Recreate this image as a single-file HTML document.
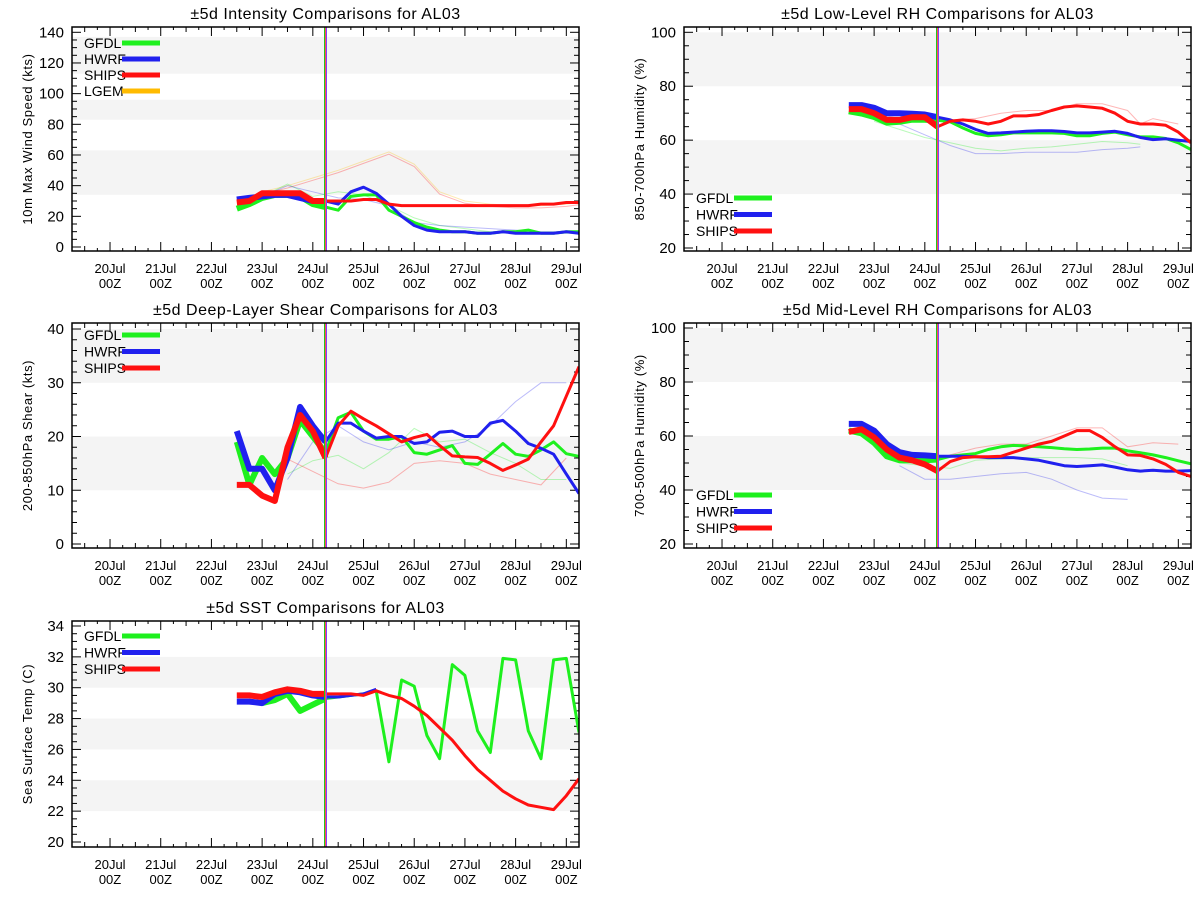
<!DOCTYPE html>
<html><head><meta charset="utf-8"><style>
html,body{margin:0;padding:0;background:#fff;}
svg{display:block;font-family:"Liberation Sans","DejaVu Sans",sans-serif;}
</style></head><body>
<svg id="chart" width="1200" height="900" viewBox="0 0 1200 900"></svg>
<script>
// ---- shared data ----
const times = [22.5,22.75,23,23.25,23.5,23.75,24,24.25,24.5,24.75,25,25.25,25.5,25.75,26,26.25,26.5,26.75,27,27.25,27.5,27.75,28,28.25,28.5,28.75,29,29.25];
const xTickDays = [20,21,22,23,24,25,26,27,28,29];
const xTickLabels = ["20Jul","21Jul","22Jul","23Jul","24Jul","25Jul","26Jul","27Jul","28Jul","29Jul"];
const currentTime = 24.25;

// Intensity (kt)
const intGFDL = [25,28,32,34,34,33,28,26,24,33,34,34,24,20,16,13,11,10,10,9,9,10,10,11,9,9,10,10];
const intHWRF = [31,32,33,34,34,32,30,30,28,36,39,35,28,20,14,11,10,10,10,9,9,10,9,9,9,9,10,9];
const intSHIPS = [29,30,35,35,35,35,30,30,30,30,31,31,28,27,27,27,27,27,27,27,27,27,27,27,28,28,29,29];
const intPrevTimes = [23,23.5,24,24.5,25,25.5,26,26.5,27,27.5,28,28.5,29,29.25];
const intPrevLGEM = [36,40,45,50,56,62,54,36,30,28,27,27,28,29];
const intPrevGFDL = [33,41,33,36,34,27,19,14,12,10,10,9,9,9];
const intPrevHWRF = [33,40,36,32,31,27,16,14,13,12,11,10,10,10];

// Shear (kt)
const shrGFDL = [19,11,16,13,16,23,20,17,23.5,24.5,21,19.5,19.5,20,17,16.7,17.5,18.3,15,14.8,16.7,18.7,16.7,16.3,17.5,19,16.8,16.3];
const shrHWRF = [21,14,14,10,16,25.5,22,19,22.5,22.5,21,19.7,20,20,18.7,19,20.8,21,20,20,22.5,23,21,18.7,17.8,16.7,13,9.4];
const shrSHIPS = [11,11,9,8,18,24,21,16,22,24.7,23.3,22,20.5,19,19.8,20.4,18.3,16.4,16.2,16.1,15,13.7,14.7,15.8,19,22,27.5,33];
const shrPrevTimes = [23.5,24,24.5,25,25.5,26,26.5,27,27.5,28,28.5,29];
const shrPrevGFDL = [13,15.5,16.5,14,17,21.5,19,19.5,17,15,12,12];
const shrPrevHWRF = [12,19,22,19,17.5,19,18,19,22,26.5,30,30];
const shrPrevSHIPS = [15.8,13.5,11.2,10.4,11.5,15,15.5,15,13,12,11,16];

// Low-level RH (%)
const llGFDL = [70.7,69.9,68.6,66.5,66.8,67.6,67.6,67.4,66.8,64.5,62.5,61.6,62,62.7,62.7,62.7,62.7,62.5,61.6,61.6,62.5,63,62,61.2,61.2,60.6,59,56.5];
const llHWRF = [73,73,72,70,70,69.8,69.5,68.5,67.5,66,64,62.5,62.7,63,63.3,63.5,63.5,63.2,62.7,62.7,63,63.3,62.5,61,60.2,60.5,60,59.5];
const llSHIPS = [71.5,71.5,70,67.5,67.5,68.5,68.5,65,67,67.5,67,66,67,69,69,69.5,71,72.3,72.7,72.3,71.8,70,67,66,66,65.5,63,59];
const llPrevTimes = [23,23.5,24,24.5,25,25.5,26,26.5,27,27.5,28,28.25,28.5,29];
const llPrevGFDL = [67,64,61,59,57,56,57,57.5,58.5,59.5,59,58.5,null,null];
const llPrevHWRF = [68,66,62,58,55,55,55.5,55.5,55.5,56.5,57,57.5,null,null];
const llPrevSHIPS = [70,68,67,67.5,68,70,71,71,73.5,73.5,71,66,68,66];

// Mid-level RH (%)
const mlGFDL = [62,61,57.5,52.5,51,51,51,51.3,52.5,53,53.5,55,56,56.5,56.3,56,55.7,55.3,55,55.2,55.5,55.5,54.5,53.8,53,52,50.8,49.7];
const mlHWRF = [64.5,64.5,62,57,54,53,52.8,52.5,52.5,52.5,52.3,52,52,52,51.5,51,50,49,48.7,49,49.3,48.5,47.5,47,47.3,47,47,47.2];
const mlSHIPS = [61.5,62.5,59.5,55,52,51,49.5,47,50.5,52,52.3,52.3,52.5,54,55.5,57,58,60,62,62,59.5,56,53,52.8,51.5,49.5,46.5,45];
const mlPrevTimes = [23.5,24,24.5,25,25.5,26,26.5,27,27.5,28,28.5,29];
const mlPrevGFDL = [50,49,48,51,51.5,52,52,52,51.5,49,null,null];
const mlPrevHWRF = [49,44,44,45,46,46.5,44,40,37,36.5,null,null];
const mlPrevSHIPS = [52,50,53,55.5,57,57,60,63,63,56,57.5,57];

// SST (C)
const sstGFDL = [null,null,29.0,29.2,29.6,28.5,28.9,29.3,29.4,29.5,29.6,29.8,25.2,30.5,30.1,26.9,25.4,31.5,30.8,27.2,25.8,31.9,31.8,27.2,25.4,31.8,31.9,27.1];
const sstHWRF = [29.1,29.1,29.0,29.6,29.8,29.7,29.5,29.4,29.4,29.5,29.6,29.9,null,null,null,null,null,null,null,null,null,null,null,null,null,null,null,null];
const sstSHIPS = [29.5,29.5,29.4,29.7,29.9,29.8,29.6,29.6,29.6,29.6,29.5,29.8,29.5,29.3,28.8,28.2,27.4,26.6,25.6,24.7,24.0,23.3,22.8,22.4,22.25,22.1,23.0,24.1];

const C = {GFDL:"#1ef01e", HWRF:"#2020ee", SHIPS:"#ff1010", LGEM:"#ffbb00"};
const NS = "http://www.w3.org/2000/svg";
const svg = document.getElementById("chart");
function mk(tag, attrs, parent){ const e=document.createElementNS(NS,tag); for(const k in attrs) e.setAttribute(k,attrs[k]); (parent||svg).appendChild(e); return e; }

function panel(cfg){
  const g = mk("g",{});
  
  
  const X = t => cfg.x0 + (t-19.25)/10*(cfg.x1-cfg.x0);
  const Y = v => cfg.pA + (v-cfg.vA)/(cfg.vB-cfg.vA)*(cfg.pB-cfg.pA);
  const clip = "clip-"+cfg.name;
  const cp = mk("clipPath",{id:clip},g); mk("rect",{x:cfg.x0,y:cfg.y0,width:cfg.x1-cfg.x0,height:cfg.y1-cfg.y0},cp);
  cfg.bands.forEach(b=>{
    const ya=Math.max(cfg.y0,Y(b[1])), yb=Math.min(cfg.y1,Y(b[0]));
    const r = mk("rect",{x:cfg.x0,y:ya,width:cfg.x1-cfg.x0,height:yb-ya,fill:"#f4f4f4"},g);
    
    
  });
  const ti = mk("text",{x:(cfg.x0+cfg.x1)/2,y:cfg.y0-8,"text-anchor":"middle","font-size":"16","letter-spacing":"0.5"},g);
  ti.textContent = cfg.title;
  
  
  const yt = mk("text",{x:0,y:0,"text-anchor":"middle","font-size":"13","letter-spacing":"0.6",transform:`translate(${cfg.x0-40},${(cfg.y0+cfg.y1)/2}) rotate(-90)`},g);
  yt.textContent = cfg.ytitle;
  
  
  for(let v=cfg.vmin; v<=cfg.vmax+1e-9; v+=cfg.minor){
    const y=Y(v); if(y<cfg.y0-0.5||y>cfg.y1+0.5) continue;
    const major = Math.abs(Math.round(v/cfg.major)*cfg.major - v)<1e-6;
    const L = major?9:5;
    mk("line",{x1:cfg.x0,x2:cfg.x0+L,y1:y,y2:y,stroke:"#000","stroke-width":1},g);
    mk("line",{x1:cfg.x1,x2:cfg.x1-L,y1:y,y2:y,stroke:"#000","stroke-width":1},g);
    if(major){
      const tl = mk("text",{x:cfg.x0-8,y:y+5,"text-anchor":"end","font-size":"15"},g);
      tl.textContent = String(v);
      
      
    }
  }
  for(let t=19.5; t<=29.25; t+=0.25){
    const x=X(t); const major = Math.abs(t-Math.round(t))<1e-6;
    const L = major?9:(Math.abs(t*2-Math.round(t*2))<1e-6?5:3);
    mk("line",{x1:x,x2:x,y1:cfg.y1,y2:cfg.y1-L,stroke:"#000","stroke-width":1},g);
    mk("line",{x1:x,x2:x,y1:cfg.y0,y2:cfg.y0+L,stroke:"#000","stroke-width":1},g);
  }
  xTickDays.forEach((d,i)=>{
    const x=X(d);
    const a = mk("text",{x:x,y:cfg.y1+22,"text-anchor":"middle","font-size":"13"},g);
    a.textContent = xTickLabels[i];
    
    
    const b = mk("text",{x:x,y:cfg.y1+37,"text-anchor":"middle","font-size":"13"},g);
    b.textContent = "00Z";
    
    
  });
  const pg = mk("g",{"clip-path":`url(#${clip})`},g);
  cfg.prev.forEach(p=>{
    let d=""; let pen=false;
    p.vals.forEach((v,i)=>{ if(v==null){pen=false;return;} d+=(pen?"L":"M")+X(p.times[i]).toFixed(1)+","+Y(v).toFixed(1); pen=true; });
    const l = mk("path",{d:d,fill:"none",stroke:C[p.model],"stroke-width":1,opacity:0.3},pg);
    
    
  });
  cfg.series.forEach(s=>{
    let dA="", dB="", penA=false, penB=false;
    s.vals.forEach((v,i)=>{
      const t=times[i];
      if(v==null){penA=false;penB=false;return;}
      const pt=X(t).toFixed(1)+","+Y(v).toFixed(1);
      if(t<=currentTime){ dA+=(penA?"L":"M")+pt; penA=true; }
      if(t>=currentTime){ dB+=(penB?"L":"M")+pt; penB=true; }
    });
    const a = mk("path",{d:dA,fill:"none",stroke:C[s.model],"stroke-width":6,"stroke-linejoin":"round"},pg);
    
    
    const b = mk("path",{d:dB,fill:"none",stroke:C[s.model],"stroke-width":3,"stroke-linejoin":"round"},pg);
    
    
  });
  const xc=X(currentTime);
  [["#1ec81e",-1],["#ff5050",0],["#8040ff",1]].forEach(c=>{
    mk("line",{x1:xc+c[1],x2:xc+c[1],y1:cfg.y0,y2:cfg.y1,stroke:c[0],"stroke-width":1},g);
  });
  const fr = mk("rect",{x:cfg.x0,y:cfg.y0,width:cfg.x1-cfg.x0,height:cfg.y1-cfg.y0,fill:"none",stroke:"#000","stroke-width":1.5},g);
  
  
  cfg.legend.forEach((m,i)=>{
    const y = cfg.legY + i*cfg.legStep;
    const tx = mk("text",{x:cfg.x0+12,y:y+5,"font-size":"14"},g);
    tx.textContent = m;
    
    
    const ln = mk("line",{x1:cfg.x0+50,x2:cfg.x0+88,y1:y,y2:y,stroke:C[m],"stroke-width":5},g);
    
    
  });
}

const L0=72, L1=579, R0=684, R1=1191;
panel({name:"intensity-panel",title:"±5d Intensity Comparisons for AL03",ytitle:"10m Max Wind Speed (kts)",
  x0:L0,x1:L1,y0:27,y1:251,vA:0,pA:247,vB:140,pB:32.3,vmin:0,vmax:140,major:20,minor:5,
  bands:[[34,63],[83,96],[113,137]],
  series:[{model:"GFDL",vals:intGFDL},{model:"HWRF",vals:intHWRF},{model:"SHIPS",vals:intSHIPS}],
  prev:[{model:"LGEM",times:intPrevTimes,vals:intPrevLGEM},{model:"SHIPS",times:intPrevTimes,vals:intPrevLGEM.map(v=>v-1.5)},{model:"GFDL",times:intPrevTimes,vals:intPrevGFDL},{model:"HWRF",times:intPrevTimes,vals:intPrevHWRF}],
  legend:["GFDL","HWRF","SHIPS","LGEM"],legY:43,legStep:16});
panel({name:"low-level-rh-panel",title:"±5d Low-Level RH Comparisons for AL03",ytitle:"850-700hPa Humidity (%)",
  x0:R0,x1:R1,y0:27,y1:251,vA:20,pA:248,vB:100,pB:32.3,vmin:20,vmax:100,major:20,minor:5,
  bands:[[40,60],[80,100]],
  series:[{model:"GFDL",vals:llGFDL},{model:"HWRF",vals:llHWRF},{model:"SHIPS",vals:llSHIPS}],
  prev:[{model:"GFDL",times:llPrevTimes,vals:llPrevGFDL},{model:"HWRF",times:llPrevTimes,vals:llPrevHWRF},{model:"SHIPS",times:llPrevTimes,vals:llPrevSHIPS}],
  legend:["GFDL","HWRF","SHIPS"],legY:198,legStep:16.5});
panel({name:"shear-panel",title:"±5d Deep-Layer Shear Comparisons for AL03",ytitle:"200-850hPa Shear (kts)",
  x0:L0,x1:L1,y0:323,y1:548,vA:0,pA:544,vB:40,pB:329,vmin:0,vmax:40,major:10,minor:2,
  bands:[[10,20],[30,40]],
  series:[{model:"GFDL",vals:shrGFDL},{model:"HWRF",vals:shrHWRF},{model:"SHIPS",vals:shrSHIPS}],
  prev:[{model:"GFDL",times:shrPrevTimes,vals:shrPrevGFDL},{model:"HWRF",times:shrPrevTimes,vals:shrPrevHWRF},{model:"SHIPS",times:shrPrevTimes,vals:shrPrevSHIPS}],
  legend:["GFDL","HWRF","SHIPS"],legY:335,legStep:16.5});
panel({name:"mid-level-rh-panel",title:"±5d Mid-Level RH Comparisons for AL03",ytitle:"700-500hPa Humidity (%)",
  x0:R0,x1:R1,y0:323,y1:548,vA:20,pA:544,vB:100,pB:328,vmin:20,vmax:100,major:20,minor:5,
  bands:[[40,60],[80,100]],
  series:[{model:"GFDL",vals:mlGFDL},{model:"HWRF",vals:mlHWRF},{model:"SHIPS",vals:mlSHIPS}],
  prev:[{model:"GFDL",times:mlPrevTimes,vals:mlPrevGFDL},{model:"HWRF",times:mlPrevTimes,vals:mlPrevHWRF},{model:"SHIPS",times:mlPrevTimes,vals:mlPrevSHIPS}],
  legend:["GFDL","HWRF","SHIPS"],legY:495,legStep:16.5});
panel({name:"sst-panel",title:"±5d SST Comparisons for AL03",ytitle:"Sea Surface Temp (C)",
  x0:L0,x1:L1,y0:621,y1:847,vA:20,pA:842,vB:34,pB:626,vmin:20,vmax:34,major:2,minor:0.5,
  bands:[[22,24],[26,28],[30,32]],
  series:[{model:"GFDL",vals:sstGFDL},{model:"HWRF",vals:sstHWRF},{model:"SHIPS",vals:sstSHIPS}],
  prev:[],
  legend:["GFDL","HWRF","SHIPS"],legY:636,legStep:16.5});
</script>
</body></html>
